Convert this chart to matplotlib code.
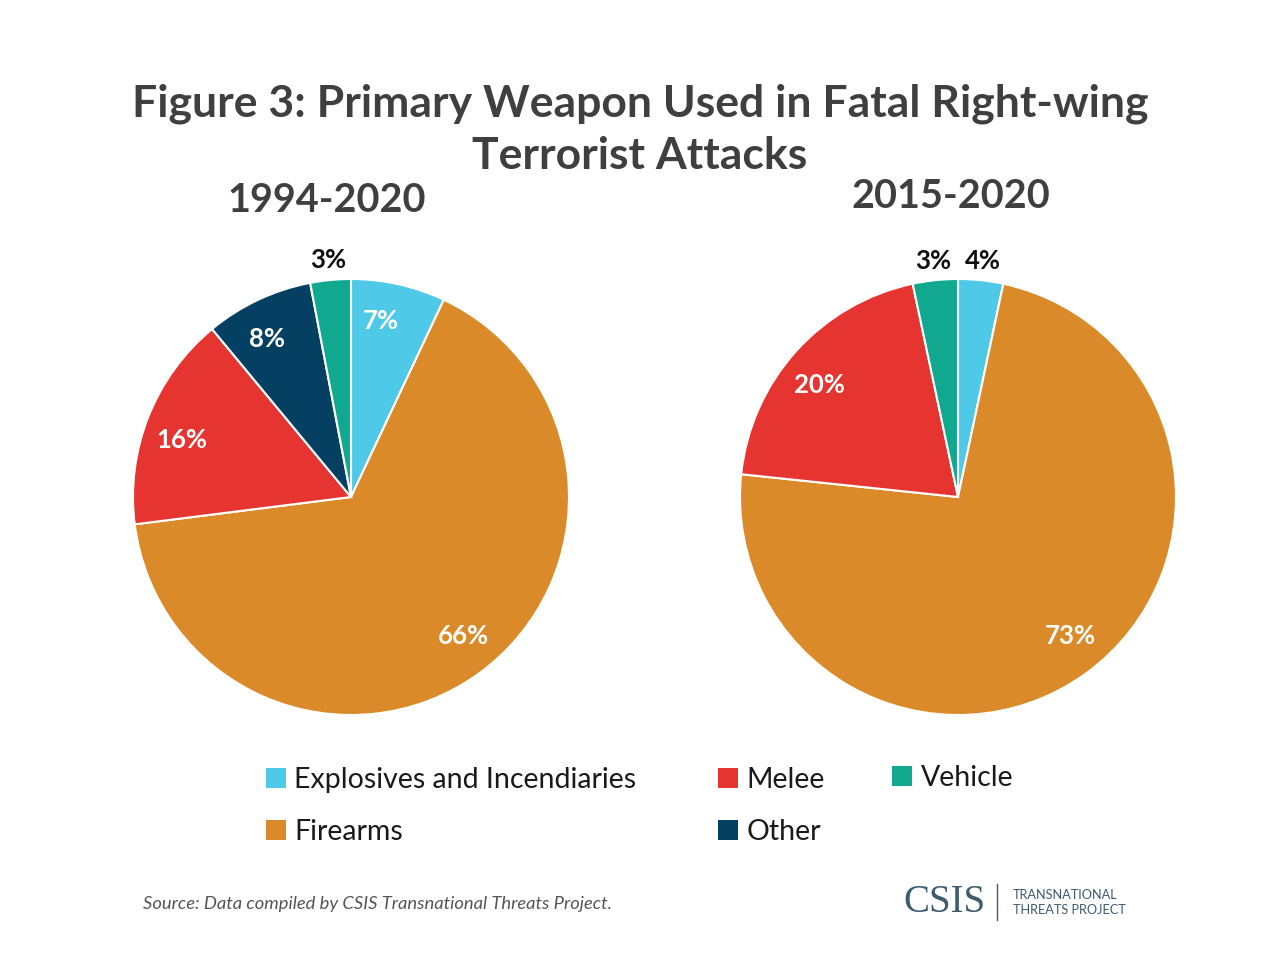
import numpy as np
import matplotlib.pyplot as plt
from matplotlib.patches import Patch

plt.rcParams['font.family'] = ['Lato', 'DejaVu Sans']

# data
categories = ['Explosives and Incendiaries', 'Firearms', 'Melee', 'Other', 'Vehicle']
colors = ['#4EC9E7', '#DB8A29', '#E63430', '#053F61', '#10A98F']

left_title = '1994-2020'
left_values = [7, 66, 16, 8, 3]
left_labels = ['7%', '66%', '16%', '8%', '3%']
left_outside = [False, False, False, False, True]

right_title = '2015-2020'
right_cats = ['Explosives and Incendiaries', 'Firearms', 'Melee', 'Vehicle']
right_values = [1, 22, 6, 1]  # attacks, labels as published
right_labels = ['4%', '73%', '20%', '3%']
right_outside = [True, False, False, True]

W, H = 1280, 969
fig = plt.figure(figsize=(W / 100, H / 100), dpi=100)
fig.patch.set_facecolor('white')


def px(x, y):
    return x / W, 1 - y / H


def draw_pie(cx, cy, r, values, cats, labels, outside, title, tx, ty):
    ax = fig.add_axes([(cx - r) / W, (H - cy - r) / H, 2 * r / W, 2 * r / H])
    cols = [colors[categories.index(c)] for c in cats]
    wedges, _ = ax.pie(values, colors=cols, startangle=90, counterclock=False,
                       radius=1, wedgeprops=dict(edgecolor='white', linewidth=1.5))
    for w, lab, out in zip(wedges, labels, outside):
        mid = np.deg2rad((w.theta1 + w.theta2) / 2 + (0 if out else 3))
        rr = 1.09 if out else 0.82
        ax.text(rr * np.cos(mid), rr * np.sin(mid), lab, ha='center', va='center',
                fontsize=18.5, fontweight='bold',
                color='#111111' if out else 'white')
    ax.set_xlim(-1, 1)
    ax.set_ylim(-1, 1)
    ax.axis('off')
    fig.text(*px(tx, ty), title, ha='center', va='center', fontsize=28.5,
             fontweight='bold', color='#3F3F3F')


draw_pie(351, 497, 218, left_values, categories, left_labels, left_outside,
         left_title, 327, 201)
draw_pie(958, 497, 218, right_values, right_cats, right_labels, right_outside,
         right_title, 951, 197)

fig.text(0.5, 1 - 129.5 / H, 'Figure 3: Primary Weapon Used in Fatal Right-wing\nTerrorist Attacks',
         ha='center', va='center', fontsize=32, fontweight='bold', color='#3F3F3F',
         linespacing=1.35)

# legend in three columns
handles = [Patch(facecolor=c, edgecolor='none') for c in colors]
groups = [([0, 1], 266, 767), ([2, 3], 718, 767), ([4], 892, 765)]
for idx, x0, y0 in groups:
    fig.legend([handles[i] for i in idx], [categories[i] for i in idx],
               loc='upper left', bbox_to_anchor=px(x0, y0), frameon=False,
               fontsize=20.5, handlelength=0.7, handleheight=0.7, handletextpad=0.3,
               borderpad=0, borderaxespad=0, labelspacing=0.9, labelcolor='#1A1A1A')

fig.text(*px(143, 904), 'Source: Data compiled by CSIS Transnational Threats Project.',
         ha='left', va='center', fontsize=13.2, style='italic', color='#555555')

# logo
logo_col = '#3E5B70'
fig.text(*px(903, 903), 'CSIS', ha='left', va='center', fontsize=28,
         family='Liberation Serif', color=logo_col)
fig.add_artist(plt.Line2D([997 / W, 997 / W], [1 - 884 / H, 1 - 920 / H],
                          color=logo_col, linewidth=1))
fig.text(*px(1013, 895), 'TRANSNATIONAL', ha='left', va='center', fontsize=9.2,
         color=logo_col)
fig.text(*px(1013, 910), 'THREATS PROJECT', ha='left', va='center', fontsize=9.2,
         color=logo_col)

fig.savefig('out.png', dpi=100, facecolor='white')
